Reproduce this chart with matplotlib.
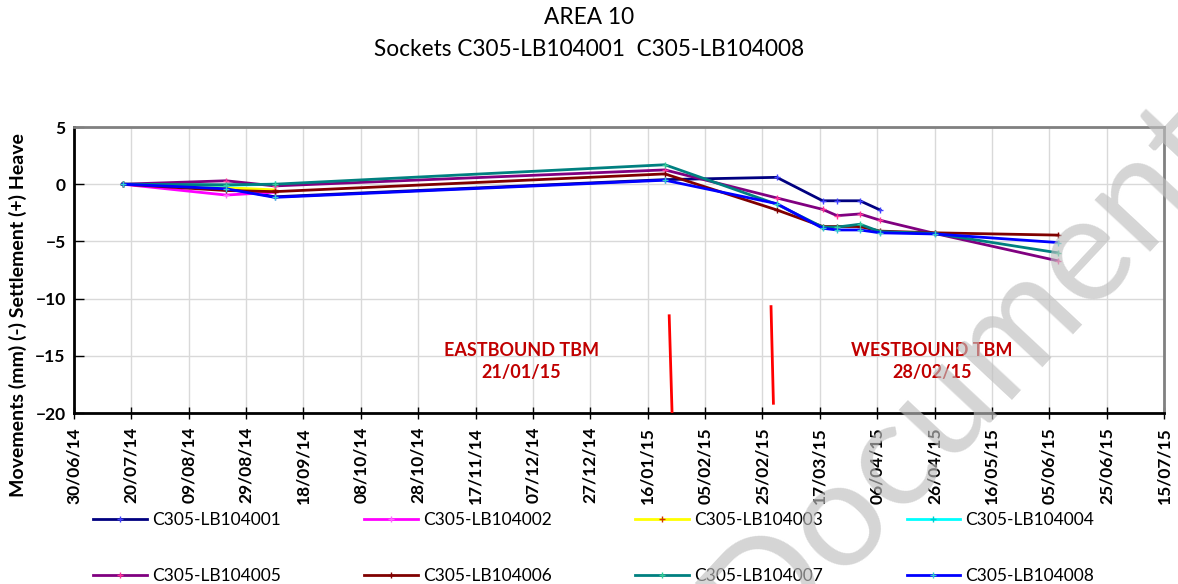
import matplotlib
matplotlib.use("Agg")
import matplotlib.pyplot as plt
import matplotlib.dates as mdates
import numpy as np
import pandas as pd

plt.rcParams['font.family'] = ['Lato', 'DejaVu Sans']

# Survey dates
survey_dates = pd.to_datetime([
    '2014-07-17', '2014-08-22', '2014-09-08', '2015-01-22', '2015-03-02',
    '2015-03-18', '2015-03-23', '2015-03-31', '2015-04-07', '2015-04-26',
    '2015-06-08'])

# Movements (mm): (-) settlement, (+) heave
lb104001 = [0, -0.35, -1.1, 0.4, 0.6, -1.45, -1.45, -1.45, -2.25]
lb104002 = [0, -0.95, -0.7]
lb104003 = [0, -0.3, -0.5]
lb104004 = [0, -0.1, 0.0]
lb104005 = [0, 0.3, -0.15, 1.25, -1.2, -2.2, -2.75, -2.6, -3.15, -4.3, -6.7]
lb104006 = [0, -0.55, -0.65, 0.9, -2.25, -3.7, -3.7, -3.7, -4.1, -4.25, -4.45]
lb104007 = [0, -0.05, 0.0, 1.7, -1.75, -3.75, -3.75, -3.5, -4.15, -4.3, -6.0]
lb104008 = [0, -0.4, -1.15, 0.35, -1.7, -3.85, -4.0, -4.0, -4.25, -4.35, -5.1]

series_names = ['C305-LB104001', 'C305-LB104002', 'C305-LB104003', 'C305-LB104004',
                'C305-LB104005', 'C305-LB104006', 'C305-LB104007', 'C305-LB104008']
series_values = [lb104001, lb104002, lb104003, lb104004,
                 lb104005, lb104006, lb104007, lb104008]
line_colors = ['#000080', '#ff00ff', '#ffff00', '#00ffff',
               '#800080', '#800000', '#008080', '#0000ff']
marker_colors = ['#4040ff', '#ff66ff', '#cc3300', '#00cccc',
                 '#ff3399', '#800000', '#33cc99', '#33cccc']

# TBM passage markers
tbm_labels = ['EASTBOUND TBM\n21/01/15', 'WESTBOUND TBM\n28/02/15']
tbm_label_dates = pd.to_datetime(['2014-12-03', '2015-04-25'])
tbm_line_x = [pd.to_datetime(['2015-01-23 12:00', '2015-01-24 12:00']),
              pd.to_datetime(['2015-02-28 00:00', '2015-02-28 20:00'])]
tbm_line_y = [[-11.5, -20.0], [-10.7, -19.15]]

x_start = pd.Timestamp('2014-06-30')
x_end = pd.Timestamp('2015-07-15')
tick_dates = pd.date_range(x_start, x_end, freq='20D')

fig = plt.figure(figsize=(11.78, 5.84), dpi=100)
ax = fig.add_axes([74/1178, 1-413/584, (1164-74)/1178, (413-127)/584])

for name, vals, lc, mc in zip(series_names, series_values, line_colors, marker_colors):
    ax.plot(survey_dates[:len(vals)], vals, color=lc, lw=2.0, marker='+',
            markersize=5, markeredgecolor=mc, markeredgewidth=1.0, label=name,
            zorder=3)

for xs, ys in zip(tbm_line_x, tbm_line_y):
    ax.plot(xs, ys, color='#ff0000', lw=2.0, zorder=4)

for txt, xd in zip(tbm_labels, tbm_label_dates):
    ax.text(xd, -15.5, txt, color='#c00000', fontsize=13, fontweight='bold',
            ha='center', va='center', linespacing=1.3, zorder=4)

ax.set_xlim(x_start, x_end)
ax.set_ylim(-20, 5)
ax.set_xticks(tick_dates)
ax.xaxis.set_major_formatter(mdates.DateFormatter('%d/%m/%y'))
ax.set_yticks([5, 0, -5, -10, -15, -20])
ax.grid(True, color='#d9d9d9', lw=1.0, zorder=0)
ax.tick_params(axis='x', direction='inout', length=8, width=1, pad=6)
ax.tick_params(axis='y', direction='in', length=7, width=1, pad=6)
for lab in ax.get_xticklabels():
    lab.set_rotation(90)
    lab.set_fontweight('bold')
    lab.set_fontsize(12.5)
for lab in ax.get_yticklabels():
    lab.set_fontweight('bold')
    lab.set_fontsize(12.5)

for side in ['left', 'bottom']:
    ax.spines[side].set_color('black')
    ax.spines[side].set_linewidth(2.0)
for side in ['top', 'right']:
    ax.spines[side].set_color('#808080')
    ax.spines[side].set_linewidth(2.0)

fig.text(18/1178, 1-315/584, 'Movements (mm) (-) Settlement (+) Heave',
         rotation=90, ha='center', va='center', fontsize=14, fontweight='bold')

fig.text(0.5, 1-18/584, 'AREA 10', ha='center', va='center', fontsize=16.3)
fig.text(0.5, 1-50/584, 'Sockets C305-LB104001  C305-LB104008', ha='center',
         va='center', fontsize=16.3)

# Legend laid out row by row, four entries per row
handles, labels = ax.get_legend_handles_labels()
order = [0, 4, 1, 5, 2, 6, 3, 7]
fig.legend([handles[i] for i in order], [labels[i] for i in order], ncol=4,
           loc='upper left', bbox_to_anchor=(93/1178, 1-512/584), frameon=False,
           fontsize=12.5, handlelength=3.1, handletextpad=0.3, columnspacing=4.8,
           labelspacing=2.3, borderpad=0, borderaxespad=0)

fig.text(966/1178, 1-374/584, 'Document', rotation=47, ha='center', va='center',
         rotation_mode='anchor', fontsize=108, color='#bfbfbf', alpha=0.65,
         zorder=10)

fig.savefig('out.png', dpi=100)
